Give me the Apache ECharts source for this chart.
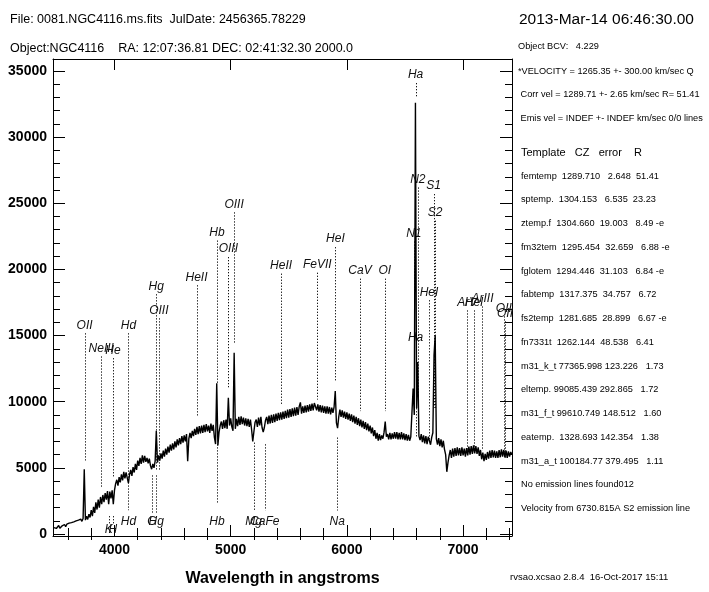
<!DOCTYPE html>
<html><head><meta charset="utf-8">
<script src="https://cdn.jsdelivr.net/npm/echarts@6/dist/echarts.min.js"></script>
<style>html,body{margin:0;padding:0;background:#fff}#c{width:709px;height:592px}</style>
</head><body><div id="c"></div>
<script>
// ---- spectrum (wavelength grid start / step, flux per sample) ----
const waveStart = 3480, waveStep = 10;
const flux = [
480,600,420,550,650,430,580,620,500,720,560,740,620,820,680,860,740,920,780,990,850,1050,900,1120,960,1180,
4900,
1050,1350,1100,1500,1250,1800,1350,2050,1600,2400,1850,2600,2000,2800,2250,2950,2400,3100,2600,3250,2250,3200,2700,3300,2250,
3300,3800,4100,3650,4300,3900,4500,4050,4700,4200,4650,4250,3850,4500,4850,4400,5050,4650,5300,4850,5550,5150,5750,5300,5950,5400,5900,5450,5750,5350,5700,5150,4900,5300,5000,5500,
7800,
5400,5950,5550,6100,5700,6300,5850,6450,6000,6600,6150,6750,6300,6850,6400,7000,6550,7150,6700,7250,6800,7400,6900,7450,7000,7550,
5500,
7200,7650,7250,7800,7400,7950,7500,8100,7550,8150,7600,8200,7650,8250,7700,8300,7750,8200,7650,8350,7800,8250,7300,6800,
11400,
6700,7700,8200,8500,7950,8600,8000,8650,7950,
10300,
8200,8750,8100,7800,
13700,
7950,8700,8150,8850,8250,8900,8300,8800,8200,8750,8150,8700,8100,8650,7900,7000,7750,8450,8650,8100,
8800,8200,8850,8050,7700,8050,8600,8850,8300,8950,8350,9000,8400,9050,8450,9100,8550,9150,8600,9200,
8650,9250,8700,9300,8750,9400,8800,9450,8850,9500,8900,9550,8950,9600,9000,9650,
9950,
9100,9650,9150,9700,9200,9750,9250,9800,9300,9850,9350,9900,10000,9350,9800,9250,9750,9200,9700,9150,9650,9100,9650,9100,9600,9050,9550,9150,9600,
10800,
8400,8000,8850,9400,8850,9350,8800,9250,8700,9200,8650,9100,8550,9050,8450,8950,8350,8850,8250,8750,
8150,8650,8050,8550,7950,8450,7850,8350,7750,8200,7600,8050,7400,7850,7200,7650,7050,7550,7100,7450,7200,7700,
8500,
7350,7550,7150,7650,7150,7600,7200,7700,7200,7700,7150,7650,7150,7700,7150,7600,7100,7550,7050,7500,7050,7350,7500,
11000,9000,32600,9500,13000,
7400,7100,7550,6950,7450,6850,7400,6800,7350,7500,6750,7300,7650,
13500,15000,
7200,6750,7250,6650,7150,6550,7050,6400,6000,
4700,
5400,5950,6350,5750,6450,5850,6500,5900,6550,5950,6500,5900,6550,5950,6450,5850,6500,5950,6600,6000,
6650,6050,6700,6100,6650,6050,6550,5900,6350,5650,6150,5500,6050,5600,6200,5700,6300,5750,6350,5800,
6300,5750,6250,5750,6350,5800,6400,5850,6350,5800,6300,5750,6250,5850,6200,6000
];

// ---- emission line markers ----
const emisNames  = ['OII','NeIII','He','Hd','Hg','OIII','HeII','Hb','OIII','OIII','HeII','FeVII','HeI','CaV','OI','N1','Ha','N2','HeI','S1','S2','ArV','HeI','ArIII','OII','OII','Ha'];
const emisWave   = [3743,3886,3987,4120,4359,4382,4706,4882,4980,5029,5434,5746,5901,6113,6327,6576,6591,6611,6707,6746,6760,7036,7095,7167,7351,7361,6591];
const emisTop    = [15170,13420,13290,15170,18120,16300,18800,22180,20930,24310,19680,19750,21680,19300,19300,22110,34080,26190,17670,25690,23680,16900,16900,17200,16450,16070,14270];
const emisBottom = [5560,3530,4280,5160,4800,4800,8910,11420,11040,14420,9790,10160,11540,9290,9290,9540,33000,9540,7160,9540,9540,6310,6310,6310,5780,5780,7290];

// ---- absorption line markers ----
const absNames  = ['K','H','Hd','G','Hg','Hb','Mg','CaFe','Na'];
const absWave   = [3951,3985,4120,4322,4359,4882,5197,5293,5917];
const absTop    = [1350,1350,5030,4430,4430,6780,6910,6780,7290];
const absBottom = [680,680,1800,1520,1520,2280,1780,1780,1780];
const absLabel  = [300,300,940,940,940,940,940,940,940];

// ---- axes ----
const xMin = 3471, xMax = 7421, yMin = -150, yMax = 35900;
const xMajor = [4000,5000,6000,7000];
const xMinor = [3600,3800,4200,4400,4600,4800,5200,5400,5600,5800,6200,6400,6600,6800,7200,7400];
const yMajor = [0,5000,10000,15000,20000,25000,30000,35000];
const yMinor = [1000,2000,3000,4000,6000,7000,8000,9000,11000,12000,13000,14000,16000,17000,18000,19000,21000,22000,23000,24000,26000,27000,28000,29000,31000,32000,33000,34000];

// ---- text panels ----
const headerLeft = ['File: 0081.NGC4116.ms.fits  JulDate: 2456365.78229',
                    'Object:NGC4116    RA: 12:07:36.81 DEC: 02:41:32.30 2000.0'];
const dateText = '2013-Mar-14 06:46:30.00';
const velLines = ['Object BCV:   4.229',
                  '*VELOCITY = 1265.35 +- 300.00 km/sec Q',
                  ' Corr vel = 1289.71 +- 2.65 km/sec R= 51.41',
                  ' Emis vel = INDEF +- INDEF km/sec 0/0 lines'];
const tableHeader = 'Template   CZ   error    R';
const tableRows = [
 'femtemp  1289.710   2.648  51.41',
 'sptemp.  1304.153   6.535  23.23',
 'ztemp.f  1304.660  19.003   8.49 -e',
 'fm32tem  1295.454  32.659   6.88 -e',
 'fglotem  1294.446  31.103   6.84 -e',
 'fabtemp  1317.375  34.757   6.72',
 'fs2temp  1281.685  28.899   6.67 -e',
 'fn7331t  1262.144  48.538   6.41',
 'm31_k_t 77365.998 123.226   1.73',
 'eltemp. 99085.439 292.865   1.72',
 'm31_f_t 99610.749 148.512   1.60',
 'eatemp.  1328.693 142.354   1.38',
 'm31_a_t 100184.77 379.495   1.11',
 'No emission lines found012',
 'Velocity from 6730.815A S2 emission line'
];
const footer = 'rvsao.xcsao 2.8.4  16-Oct-2017 15:11';

const FONT = '"Liberation Sans", Arial, Helvetica, sans-serif';
const chart = echarts.init(document.getElementById('c'), null, {renderer:'canvas'});

function tickAxis(pos, vals, len, labelVals, extra){
  const horiz = (pos==='top'||pos==='bottom');
  const o = {
    type:'value', position:pos, min: horiz?xMin:yMin, max: horiz?xMax:yMax,
    axisLine:{show:true, onZero:false, lineStyle:{color:'#000', width:1}},
    axisTick:{show:true, inside:true, length:len, customValues:vals, lineStyle:{color:'#000', width:1}},
    axisLabel:{show:!!labelVals, customValues: labelVals || undefined, formatter:function(v){return String(v);},
      color:'#000', fontFamily:FONT, fontWeight:'bold', fontSize:14, margin: horiz?7:6},
    splitLine:{show:false}
  };
  return Object.assign(o, extra||{});
}

const graphics = [];
headerLeft.forEach((t,i)=>graphics.push({type:'text', x:10, y:[20,49][i], style:{text:t, fontFamily:FONT, fontSize:12.5, fill:'#000', verticalAlign:'middle'}}));
graphics.push({type:'text', x:519, y:20, style:{text:dateText, fontFamily:FONT, fontSize:15.5, fill:'#000', verticalAlign:'middle'}});
velLines.forEach((t,i)=>graphics.push({type:'text', x:518, y:[46,71,94.5,118.5][i], style:{text:t, fontFamily:FONT, fontSize:9.2, fill:'#000', verticalAlign:'middle'}}));
graphics.push({type:'text', x:521, y:152.5, style:{text:tableHeader, fontFamily:FONT, fontSize:11, fill:'#000', verticalAlign:'middle'}});
tableRows.forEach((t,i)=>graphics.push({type:'text', x:521, y:176.2+i*23.75, style:{text:t, fontFamily:FONT, fontSize:9.2, fill:'#000', verticalAlign:'middle'}}));
graphics.push({type:'text', x:510, y:577, style:{text:footer, fontFamily:FONT, fontSize:9.5, fill:'#000', verticalAlign:'middle'}});

const emisData = emisWave.map((w,i)=>[w, emisTop[i], emisBottom[i]]);
const absData = absWave.map((w,i)=>[w, absTop[i], absBottom[i], absLabel[i]]);

chart.setOption({
  animation:false,
  backgroundColor:'#fff',
  grid:{left:53, top:59, width:459, height:480, containLabel:false},
  xAxis:[
    tickAxis('bottom', xMajor, 11, xMajor, {name:'Wavelength in angstroms', nameLocation:'middle', nameGap:35,
      nameTextStyle:{fontFamily:FONT, fontWeight:'bold', fontSize:16, color:'#000'}}),
    tickAxis('bottom', xMinor, 6, null, {axisLine:{show:false}}),
    tickAxis('top', xMajor, 11, null),
    tickAxis('top', xMinor, 6, null, {axisLine:{show:false}})
  ],
  yAxis:[
    tickAxis('left', yMajor, 12, yMajor),
    tickAxis('left', yMinor, 7, null, {axisLine:{show:false}}),
    tickAxis('right', yMajor, 12, null),
    tickAxis('right', yMinor, 7, null, {axisLine:{show:false}})
  ],
  graphic: graphics,
  series:[
    {type:'line', xAxisIndex:0, yAxisIndex:0, showSymbol:false, symbol:'none',
     data: flux.map((f,i)=>[waveStart+i*waveStep, f]),
     lineStyle:{color:'#000', width:1.4}, clip:true, silent:true},
    {type:'custom', xAxisIndex:0, yAxisIndex:0, data: emisData, clip:false, silent:true,
     renderItem:function(params, api){
       const p1 = api.coord([api.value(0), api.value(1)]);
       const p2 = api.coord([api.value(0), api.value(2)]);
       const x = Math.round(p1[0]) + 0.5;
       return {type:'group', children:[
         {type:'line', shape:{x1:x, y1:p1[1], x2:x, y2:p2[1]}, style:{stroke:'#000', lineWidth:1, lineDash:[1.2,1.8]}},
         {type:'text', x:p1[0], y:p1[1]-8, style:{text:emisNames[params.dataIndex], fontFamily:FONT, fontStyle:'italic', fontSize:12, fill:'#111', align:'center', verticalAlign:'middle'}}
       ]};
     }},
    {type:'custom', xAxisIndex:0, yAxisIndex:0, data: absData, clip:false, silent:true,
     renderItem:function(params, api){
       const p1 = api.coord([api.value(0), api.value(1)]);
       const p2 = api.coord([api.value(0), api.value(2)]);
       const p3 = api.coord([api.value(0), api.value(3)]);
       const x = Math.round(p1[0]) + 0.5;
       return {type:'group', children:[
         {type:'line', shape:{x1:x, y1:p1[1], x2:x, y2:p2[1]}, style:{stroke:'#000', lineWidth:1, lineDash:[1.2,1.8]}},
         {type:'text', x:p1[0], y:p3[1], style:{text:absNames[params.dataIndex], fontFamily:FONT, fontStyle:'italic', fontSize:12, fill:'#111', align:'center', verticalAlign:'middle'}}
       ]};
     }}
  ]
});
</script>
</body></html>
